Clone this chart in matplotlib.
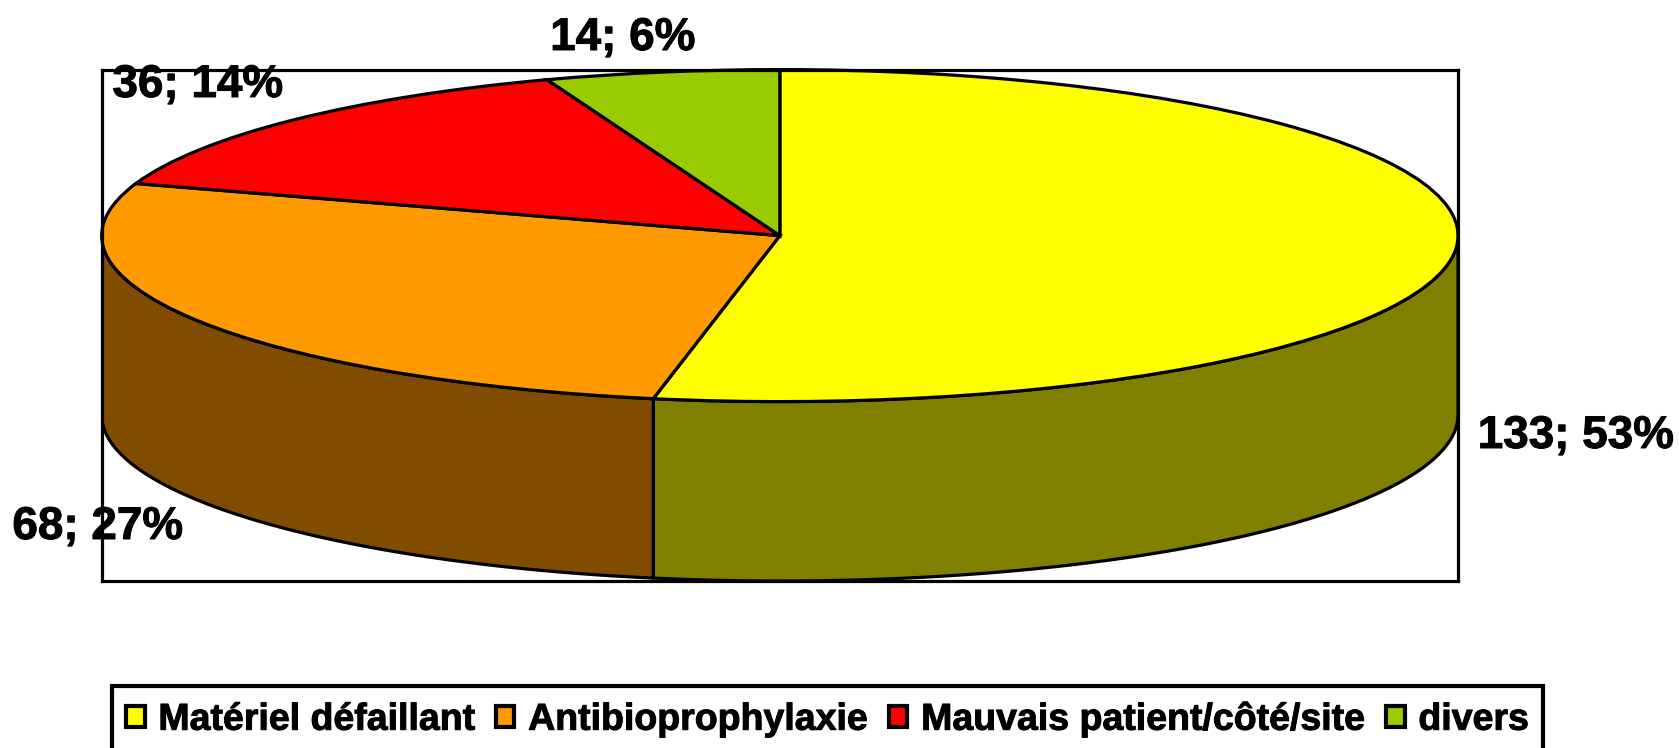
import numpy as np
import matplotlib
matplotlib.use('Agg')
import matplotlib.pyplot as plt
import matplotlib.patheffects as pe

W, H = 1679, 748

names = ['Matériel défaillant', 'Antibioprophylaxie', 'Mauvais patient/côté/site', 'divers']
counts = [133, 68, 36, 14]
labels = ['133; 53%', '68; 27%', '36; 14%', '14; 6%']
top_colors = ['#FFFF00', '#FF9900', '#FF0000', '#99CC00']
side_colors = ['#808000', '#804C00', '#800000', '#4D6600']

# label centres in pixels
label_xy = [(1576, 436), (98, 527), (198, 85), (623, 38)]

plt.rcParams['font.family'] = ['Liberation Sans', 'DejaVu Sans']
plt.rcParams['font.weight'] = 'bold'

fig = plt.figure(figsize=(W/100, H/100), dpi=100)
left, right, top, bottom = 101.7, 1458.0, 69.6, 581.0
ax = fig.add_axes([left/W, 1-bottom/H, (right-left)/W, (bottom-top)/H])

# pie squashed into an ellipse, one data unit in y = b pixels
b = 166.0
depth = (bottom-top-2*b)/b
lw = 2.3
heavy = [pe.withStroke(linewidth=0.7, foreground='black')]

wedges, _ = ax.pie(counts, colors=top_colors, startangle=90, counterclock=False,
                   frame=True, wedgeprops=dict(edgecolor='black', linewidth=lw, zorder=3))

# side wall, only the front half of the ellipse
edges = 90-360*np.cumsum([0]+counts)/np.sum(counts)
for i in range(len(counts)):
    a0 = min(edges[i], 0)
    a1 = max(edges[i+1], -180)
    if a1 >= 0 or a0 <= -180:
        continue
    t = np.radians(np.linspace(a0, a1, 120))
    xs = np.cos(t)
    ys = np.sin(t)
    ax.fill(np.r_[xs, xs[::-1]], np.r_[ys, ys[::-1]-depth], facecolor=side_colors[i],
            edgecolor='black', linewidth=lw, zorder=2)

ax.set_aspect('auto')
ax.set_xlim(-1, 1)
ax.set_ylim(1-(bottom-top)/b, 1)
ax.set_xticks([])
ax.set_yticks([])
for s in ax.spines.values():
    s.set_linewidth(lw)
    s.set_zorder(4)

for txt, (x, y) in zip(labels, label_xy):
    fig.text(x/W, 1-y/H, txt, fontsize=33, fontweight='bold', ha='center', va='center',
             color='black', zorder=10, path_effects=heavy)

leg = fig.legend(wedges, names, loc='upper left', bbox_to_anchor=(111.5/W, 1-686/H),
                 borderaxespad=0, ncol=4, fontsize=27, frameon=True, fancybox=False,
                 edgecolor='black', framealpha=1, handlelength=0.5, handleheight=0.5,
                 handletextpad=0.37, columnspacing=0.55, borderpad=0.38)
leg.get_frame().set_linewidth(3)
for h in leg.legend_handles:
    h.set_linewidth(3)
for t in leg.get_texts():
    t.set_path_effects(heavy)

fig.savefig('out.png', dpi=100)
